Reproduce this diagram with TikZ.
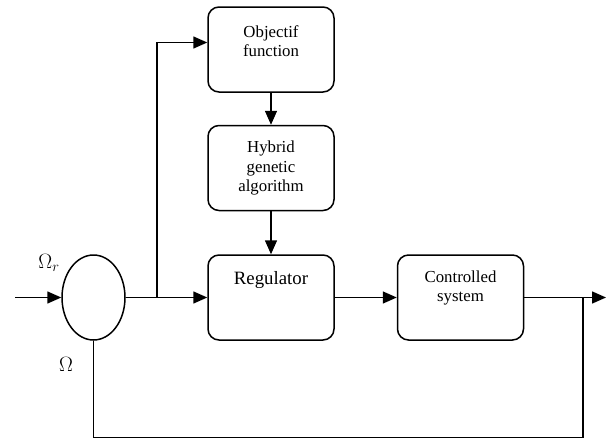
\documentclass[tikz,border=0pt]{standalone}
\usepackage{fontspec}
\setmainfont{Liberation Serif}
\usetikzlibrary{arrows.meta,shapes.geometric}
\begin{document}
\begin{tikzpicture}[x=1pt,y=-1pt,
  line width=1.5pt,
  box/.style={draw,rounded corners=11pt,minimum width=126pt,minimum height=85pt,inner sep=0pt},
  lbl/.style={font=\fontsize{16.8}{19.3}\selectfont,align=center,inner sep=0pt},
  arr/.style={-{Triangle[length=14pt,width=12pt]}}]
\useasboundingbox (0,0) rectangle (611,439);
\node[draw,ellipse,minimum width=63pt,minimum height=85pt,inner sep=0pt] (ell) at (93.5,297.5) {};
\node[box] (obj) at (271,49.5) {};
\node[box] (hyb) at (271,168) {};
\node[box] (reg) at (271,297.5) {};
\node[box] (ctl) at (460.5,297.5) {};
\node[lbl] at (271,41) {Objectif\\function};
\node[lbl] at (271,168) {Hybrid\\genetic\\algorithm};
\node[lbl,font=\fontsize{18.8}{22}\selectfont] at (271,280) {Regulator};
\node[lbl] at (460.5,288) {Controlled\\system};
\node[inner sep=0pt,font=\fontsize{22}{26}\selectfont] at (49,263) {$\Omega_r$};
\node[inner sep=0pt,font=\fontsize{22}{26}\selectfont] at (66,364) {$\Omega$};
\coordinate (in) at (15,297.5);
\coordinate (J) at (157,297.5);
\coordinate (B) at (583,297.5);
\coordinate (out) at (606,297.5);
\coordinate (fb) at (583,437.5);
\draw[arr] (in) -- (ell.west);
\draw[arr] (ell.east) -- (reg.west);
\draw[arr] (J) |- ([yshift=7pt]obj.west);
\draw[arr] (obj.south) -- (hyb.north);
\draw[arr] (hyb.south) -- (reg.north);
\draw[arr] (reg.east) -- (ctl.west);
\draw[arr] (ctl.east) -- (out);
\draw (B) -- (fb) -| (ell.south);
\end{tikzpicture}
\end{document}
